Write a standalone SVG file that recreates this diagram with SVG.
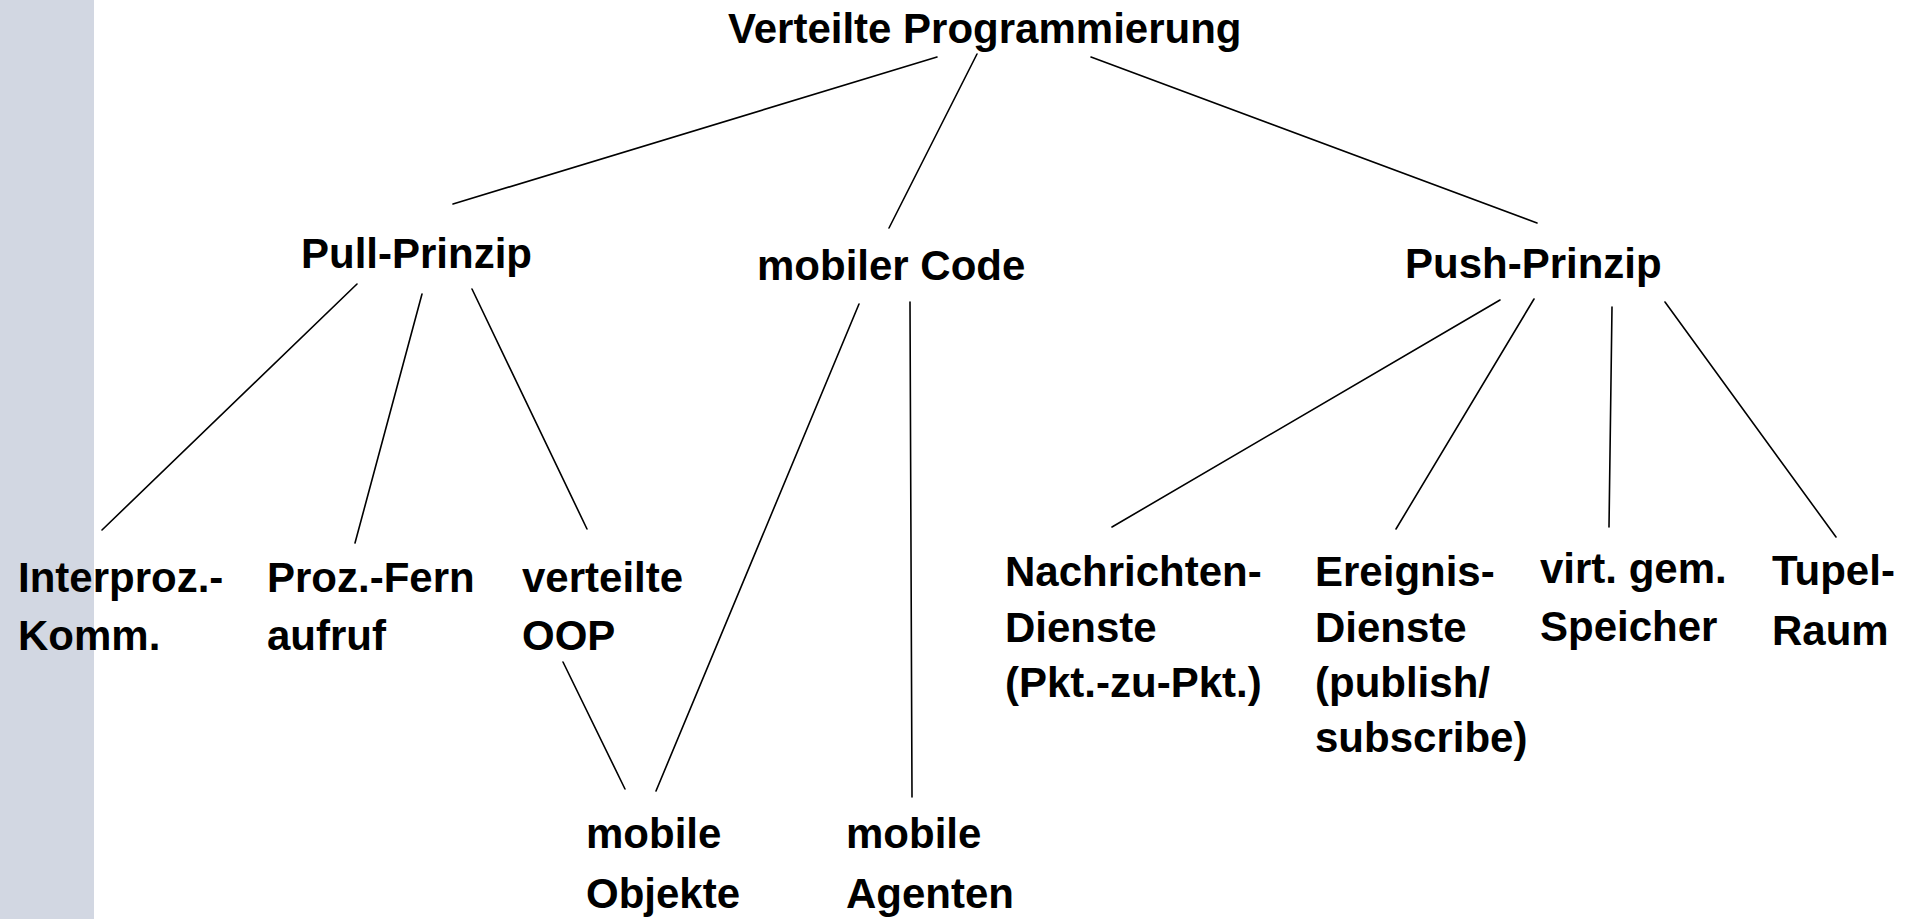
<svg xmlns="http://www.w3.org/2000/svg" width="1917" height="919" viewBox="0 0 1917 919">
  <style>
    .lbl { font-family: "Liberation Sans", Arial, sans-serif; font-weight: bold; font-size: 42px; fill: #000; }
    .edge { stroke: #000; stroke-width: 1.6; fill: none; stroke-linecap: round; }
  </style>
  <rect width="1917" height="919" fill="#ffffff"/>
  <!-- left side bar -->
  <rect x="0" y="0" width="94" height="919" fill="#d2d7e2"/>

  <g id="connectors">
    <!-- root to second level -->
    <line class="edge" x1="937" y1="57" x2="453" y2="204"/>
    <line class="edge" x1="977" y1="54" x2="889" y2="228"/>
    <line class="edge" x1="1091" y1="57" x2="1537" y2="223"/>
    <!-- Pull-Prinzip children -->
    <line class="edge" x1="357" y1="284" x2="102" y2="530"/>
    <line class="edge" x1="422" y1="294" x2="355" y2="543"/>
    <line class="edge" x1="472" y1="289" x2="587" y2="529"/>
    <!-- verteilte OOP to mobile Objekte -->
    <line class="edge" x1="563" y1="662" x2="625" y2="789"/>
    <!-- mobiler Code children -->
    <line class="edge" x1="859" y1="304" x2="656" y2="791"/>
    <line class="edge" x1="910" y1="302" x2="912" y2="797"/>
    <!-- Push-Prinzip children -->
    <line class="edge" x1="1500" y1="300" x2="1112" y2="527"/>
    <line class="edge" x1="1534" y1="299" x2="1396" y2="529"/>
    <line class="edge" x1="1612" y1="307" x2="1609" y2="527"/>
    <line class="edge" x1="1665" y1="302" x2="1836" y2="537"/>
  </g>

  <g id="root">
    <text class="lbl" x="728" y="43">Verteilte Programmierung</text>
  </g>
  <g id="pull">
    <text class="lbl" x="301" y="268">Pull-Prinzip</text>
  </g>
  <g id="mobile-code">
    <text class="lbl" x="757" y="280">mobiler Code</text>
  </g>
  <g id="push">
    <text class="lbl" x="1405" y="278">Push-Prinzip</text>
  </g>

  <g id="ipc">
    <text class="lbl" x="18" y="592">Interproz.-</text>
    <text class="lbl" x="18" y="650">Komm.</text>
  </g>
  <g id="rpc">
    <text class="lbl" x="267" y="592">Proz.-Fern</text>
    <text class="lbl" x="267" y="650">aufruf</text>
  </g>
  <g id="distributed-oop">
    <text class="lbl" x="522" y="592">verteilte</text>
    <text class="lbl" x="522" y="650">OOP</text>
  </g>
  <g id="mobile-objects">
    <text class="lbl" x="586" y="848">mobile</text>
    <text class="lbl" x="586" y="908">Objekte</text>
  </g>
  <g id="mobile-agents">
    <text class="lbl" x="846" y="848">mobile</text>
    <text class="lbl" x="846" y="908">Agenten</text>
  </g>
  <g id="message-services">
    <text class="lbl" x="1005" y="586">Nachrichten-</text>
    <text class="lbl" x="1005" y="642">Dienste</text>
    <text class="lbl" x="1005" y="697">(Pkt.-zu-Pkt.)</text>
  </g>
  <g id="event-services">
    <text class="lbl" x="1315" y="586">Ereignis-</text>
    <text class="lbl" x="1315" y="642">Dienste</text>
    <text class="lbl" x="1315" y="697">(publish/</text>
    <text class="lbl" x="1315" y="752">subscribe)</text>
  </g>
  <g id="virtual-shared-memory">
    <text class="lbl" x="1540" y="583">virt. gem.</text>
    <text class="lbl" x="1540" y="641">Speicher</text>
  </g>
  <g id="tuple-space">
    <text class="lbl" x="1772" y="585">Tupel-</text>
    <text class="lbl" x="1772" y="645">Raum</text>
  </g>
</svg>
